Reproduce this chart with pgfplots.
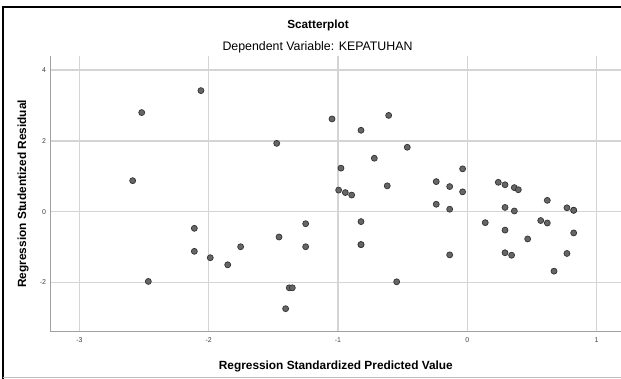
\documentclass[border=0pt]{standalone}
\usepackage{fontspec}
\setmainfont{Liberation Sans}
\usepackage{pgfplots}
\pgfplotsset{compat=1.18}
\definecolor{gridc}{HTML}{D4D4D4}
\definecolor{axisc}{HTML}{A0A0A0}
\definecolor{markf}{HTML}{666666}
\definecolor{markd}{HTML}{333333}
\definecolor{tickc}{HTML}{404040}
\begin{document}
\begin{tikzpicture}
\useasboundingbox (0,0) rectangle (621bp,379bp);
\fill[white] (0,0) rectangle (621bp,379bp);
\begin{axis}[
  scale only axis,
  width=570.3bp, height=275.7bp,
  at={(50.7bp,47.3bp)}, anchor=south west,
  xmin=-3.222, xmax=1.189,
  ymin=-3.390, ymax=4.398,
  axis x line*=bottom, axis y line*=left,
  axis line style={draw=axisc, line width=1.4bp, -},
  xtick={-3,-2,-1,0,1}, xticklabels={-3,-2,-1,0,1},
  ytick={-2,0,2,4}, yticklabels={-2,0,2,4},
  major tick length=0pt,
  tick style={draw=none},
  grid=major,
  major grid style={draw=gridc, line width=1.3bp},
  xticklabel style={font=\fontsize{7}{8}\selectfont, text=tickc, anchor=base, inner sep=0pt, yshift=-10.8bp},
  yticklabel style={font=\fontsize{7}{8}\selectfont, text=tickc, anchor=east, inner sep=0pt, xshift=-4.5bp},
  xlabel={Regression Standardized Predicted Value},
  ylabel={Regression Studentized Residual},
  xlabel style={font=\fontsize{11.9}{13}\selectfont\bfseries, at={(axis description cs:0.5,0)}, anchor=base, inner sep=0pt, yshift=-37.8bp},
  ylabel style={font=\fontsize{11.9}{13}\selectfont\bfseries, at={(axis description cs:0,0.5)}, anchor=base, inner sep=0pt, yshift=24.7bp},
  clip=false,
]
\addplot[only marks, mark=*, mark size=3bp, mark options={fill=markf, draw=markd, line width=0.7bp}] coordinates {
(-2.518,2.80) (-2.06,3.42) (-2.588,0.876) (-1.474,1.93)
(-1.046,2.62) (-0.608,2.72) (-0.822,2.30) (-0.464,1.82)
(-0.719,1.51) (-0.977,1.23) (-0.036,1.21) (-0.995,0.61)
(-0.943,0.54) (-0.894,0.47) (-0.619,0.73) (-0.240,0.85)
(-0.136,0.71) (-0.036,0.56) (0.240,0.83) (0.292,0.76)
(0.364,0.68) (0.395,0.62) (0.619,0.32) (-0.240,0.21)
(-0.136,0.07) (0.292,0.12) (0.364,0.02) (0.771,0.11)
(0.823,0.04) (0.823,0.04)
(-1.25,-0.34) (-1.25,-0.99) (-0.822,-0.28) (-0.822,-0.93) (-0.822,-0.93)
(-0.546,-1.98) (-0.136,-1.22) (0.139,-0.31) (0.292,-0.52)
(0.467,-0.77) (0.568,-0.25) (0.619,-0.32) (0.823,-0.60)
(0.292,-1.16) (0.343,-1.23) (0.771,-1.18) (0.671,-1.68)
(-2.111,-0.47) (-2.111,-1.12) (-1.988,-1.30) (-1.853,-1.50)
(-1.753,-0.99) (-2.467,-1.97) (-1.456,-0.715)
(-1.377,-2.15) (-1.353,-2.15) (-1.405,-2.74)
};
\end{axis}
\node[anchor=base, font=\fontsize{11.8}{13}\selectfont\bfseries, inner sep=0pt] at (318bp,350.7bp) {Scatterplot};
\node[anchor=base, font=\fontsize{12.4}{14}\selectfont, inner sep=0pt] at (317.5bp,328.3bp) {Dependent Variable: KEPATUHAN};
\draw[black, line width=2bp] (3bp,0bp) -- (3bp,372bp) -- (621bp,372bp);
\draw[gray!50, line width=1bp] (3bp,1.5bp) -- (621bp,1.5bp);
\end{tikzpicture}
\end{document}
